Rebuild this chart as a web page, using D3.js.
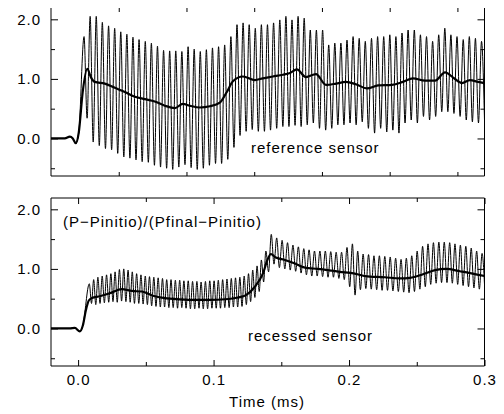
<!DOCTYPE html>
<html>
<head>
<meta charset="utf-8">
<script src="https://cdn.jsdelivr.net/npm/d3@7"></script>
<style>
  body { margin: 0; background: #fff; }
  svg { display: block; }
  text { font-family: "Liberation Sans", Arial, sans-serif; font-size: 15px; letter-spacing: 1px; fill: #000; }
</style>
</head>
<body>
<div class="chart"></div>
<script>
// --- Data (time in ms, normalised pressure) ---

// reference sensor: one entry per oscillation cycle -> [time of peak, peak, following trough]
const refCycles = [
    [0.0044, 1.71, 0.34], [0.0089, 2.05, -0.06], [0.0134, 2.05, -0.12], [0.0179, 1.95, -0.17],
    [0.0225, 1.89, -0.19], [0.0270, 1.85, -0.25], [0.0315, 1.79, -0.31], [0.0360, 1.75, -0.33],
    [0.0405, 1.70, -0.36], [0.0450, 1.66, -0.39], [0.0496, 1.63, -0.40], [0.0541, 1.60, -0.45],
    [0.0586, 1.55, -0.48], [0.0631, 1.48, -0.50], [0.0676, 1.47, -0.52], [0.0721, 1.47, -0.48],
    [0.0766, 1.46, -0.44], [0.0812, 1.54, -0.49], [0.0857, 1.50, -0.52], [0.0902, 1.46, -0.50],
    [0.0947, 1.49, -0.45], [0.0992, 1.52, -0.42], [0.1037, 1.54, -0.42], [0.1082, 1.57, -0.35],
    [0.1128, 1.71, -0.15], [0.1173, 1.91, 0.05], [0.1218, 1.94, 0.12], [0.1263, 1.91, 0.15],
    [0.1308, 1.85, 0.12], [0.1353, 1.91, 0.12], [0.1398, 1.91, 0.14], [0.1443, 1.94, 0.17],
    [0.1489, 1.99, 0.20], [0.1534, 2.05, 0.20], [0.1579, 1.99, 0.22], [0.1624, 2.05, 0.20],
    [0.1669, 2.02, 0.23], [0.1714, 1.82, 0.26], [0.1759, 1.82, 0.17], [0.1805, 1.82, 0.14],
    [0.1850, 1.57, 0.17], [0.1895, 1.60, 0.23], [0.1940, 1.60, 0.23], [0.1985, 1.65, 0.26],
    [0.2030, 1.71, 0.23], [0.2075, 1.68, 0.28], [0.2120, 1.63, 0.17], [0.2166, 1.68, 0.09],
    [0.2211, 1.71, 0.17], [0.2256, 1.71, 0.11], [0.2301, 1.74, 0.14], [0.2346, 1.71, 0.09],
    [0.2391, 1.77, 0.26], [0.2436, 1.82, 0.31], [0.2482, 1.82, 0.26], [0.2527, 1.74, 0.37],
    [0.2572, 1.71, 0.31], [0.2617, 1.63, 0.37], [0.2662, 1.74, 0.45], [0.2707, 1.85, 0.45],
    [0.2752, 1.74, 0.42], [0.2797, 1.71, 0.37], [0.2843, 1.66, 0.31], [0.2888, 1.71, 0.28],
    [0.2933, 1.68, 0.26], [0.2978, 1.63, 0.26]
];

// reference sensor: filtered (thick) curve -> [time, value]
const refMean = [
    [-0.0200, 0.00], [-0.0098, 0.00], [-0.0061, 0.03], [-0.0039, 0.00], [-0.0017, -0.08],
    [0.0005, 0.10], [0.0035, 0.80], [0.0068, 1.17], [0.0094, 1.03], [0.0123, 0.95],
    [0.0197, 0.92], [0.0271, 0.85], [0.0345, 0.78], [0.0419, 0.70], [0.0493, 0.66],
    [0.0566, 0.62], [0.0640, 0.55], [0.0714, 0.51], [0.0773, 0.58], [0.0825, 0.55],
    [0.0899, 0.52], [0.0973, 0.54], [0.1046, 0.60], [0.1098, 0.78], [0.1143, 0.96],
    [0.1217, 1.04], [0.1305, 0.98], [0.1364, 1.01], [0.1438, 1.04], [0.1512, 1.07],
    [0.1564, 1.10], [0.1615, 1.16], [0.1682, 1.03], [0.1756, 1.08], [0.1830, 0.90],
    [0.1904, 0.92], [0.1977, 0.95], [0.2051, 0.91], [0.2132, 0.84], [0.2214, 0.89],
    [0.2317, 0.90], [0.2398, 0.95], [0.2472, 1.01], [0.2561, 0.97], [0.2635, 0.97],
    [0.2709, 1.11], [0.2775, 1.01], [0.2834, 0.93], [0.2893, 0.98], [0.2952, 0.95],
    [0.3000, 0.93]
];

// recessed sensor: [time of peak, peak, following trough]
const recCycles = [
    [0.0083, 0.75, 0.42], [0.0115, 0.82, 0.40], [0.0146, 0.86, 0.42], [0.0178, 0.88, 0.43],
    [0.0210, 0.90, 0.44], [0.0242, 0.92, 0.45], [0.0273, 0.95, 0.44], [0.0305, 0.99, 0.46],
    [0.0337, 1.00, 0.45], [0.0369, 0.98, 0.44], [0.0400, 0.95, 0.42], [0.0432, 0.92, 0.42],
    [0.0464, 0.90, 0.41], [0.0496, 0.88, 0.40], [0.0527, 0.87, 0.38], [0.0559, 0.86, 0.37],
    [0.0591, 0.85, 0.36], [0.0623, 0.84, 0.36], [0.0654, 0.82, 0.35], [0.0686, 0.82, 0.35],
    [0.0718, 0.81, 0.34], [0.0750, 0.81, 0.35], [0.0781, 0.80, 0.34], [0.0813, 0.80, 0.33],
    [0.0845, 0.79, 0.33], [0.0877, 0.79, 0.34], [0.0908, 0.78, 0.33], [0.0940, 0.79, 0.33],
    [0.0972, 0.80, 0.34], [0.1004, 0.80, 0.34], [0.1035, 0.81, 0.34], [0.1067, 0.82, 0.35],
    [0.1099, 0.83, 0.35], [0.1131, 0.84, 0.36], [0.1162, 0.85, 0.36], [0.1194, 0.86, 0.37],
    [0.1226, 0.88, 0.40], [0.1258, 0.92, 0.45], [0.1289, 0.98, 0.52], [0.1321, 1.05, 0.62],
    [0.1353, 1.15, 0.78],
    [0.1386, 1.30, 0.95], [0.1426, 1.58, 1.08], [0.1466, 1.52, 1.02], [0.1506, 1.48, 1.00],
    [0.1546, 1.44, 0.98], [0.1586, 1.40, 0.96], [0.1626, 1.37, 0.93], [0.1666, 1.34, 0.90],
    [0.1705, 1.32, 0.88], [0.1745, 1.30, 0.88], [0.1785, 1.30, 0.87], [0.1825, 1.30, 0.86],
    [0.1865, 1.29, 0.86], [0.1905, 1.28, 0.84], [0.1945, 1.28, 0.82], [0.1985, 1.36, 0.70],
    [0.2025, 1.42, 0.56], [0.2064, 1.30, 0.65], [0.2104, 1.25, 0.67], [0.2144, 1.24, 0.66],
    [0.2184, 1.22, 0.65], [0.2224, 1.22, 0.64], [0.2264, 1.21, 0.64], [0.2304, 1.20, 0.63],
    [0.2344, 1.18, 0.62], [0.2384, 1.16, 0.61], [0.2423, 1.18, 0.60], [0.2463, 1.22, 0.62],
    [0.2503, 1.30, 0.66], [0.2543, 1.38, 0.70], [0.2583, 1.42, 0.74], [0.2623, 1.44, 0.76],
    [0.2663, 1.45, 0.77], [0.2703, 1.45, 0.77], [0.2743, 1.44, 0.76], [0.2782, 1.42, 0.74],
    [0.2822, 1.40, 0.72], [0.2862, 1.38, 0.70], [0.2902, 1.35, 0.68], [0.2942, 1.30, 0.66],
    [0.2982, 1.26, 0.65]
];

// recessed sensor: filtered (thick) curve
const recMean = [
    [-0.0200, 0.00], [-0.0061, 0.00], [-0.0024, 0.01], [0.0013, -0.05], [0.0035, 0.05],
    [0.0057, 0.30], [0.0079, 0.47], [0.0101, 0.51], [0.0160, 0.54], [0.0234, 0.59],
    [0.0323, 0.66], [0.0397, 0.63], [0.0471, 0.62], [0.0552, 0.55], [0.0640, 0.51],
    [0.0751, 0.49], [0.0862, 0.48], [0.0973, 0.48], [0.1083, 0.49], [0.1180, 0.52],
    [0.1239, 0.56], [0.1305, 0.70], [0.1364, 0.92], [0.1401, 1.17], [0.1423, 1.25],
    [0.1460, 1.19], [0.1527, 1.15], [0.1601, 1.09], [0.1675, 1.02], [0.1770, 1.00],
    [0.1874, 0.97], [0.1970, 0.94], [0.2022, 0.93], [0.2118, 0.88], [0.2265, 0.86],
    [0.2376, 0.84], [0.2450, 0.85], [0.2546, 0.91], [0.2635, 0.98], [0.2716, 1.00],
    [0.2819, 0.96], [0.2893, 0.93], [0.3000, 0.88]
];

// tick values
const yMajorTicks = [0, 1, 2];
const yMinorTicks = [-0.5, 0.5, 1.5];
const xLabelTicks = [0, 0.1, 0.2, 0.3];
const xMinorTicks = [0.05, 0.15, 0.25];
const refTicks = [0.03, 0.08, 0.13, 0.18, 0.23, 0.28];   // top panel ticks sit off the labelled grid

// --- Layout ---
const W = 504, H = 414;
const left = 51, right = 484.5;

const svg = d3.select(".chart")
    .append("svg")
    .attr("width", W)
    .attr("height", H);

const x = d3.scaleLinear().domain([-0.02, 0.3]).range([left, right]);

// turn peak/trough cycles into one zig-zag series, trough halfway to the next peak
const toWave = (cycles, lead) => {
    const pts = lead.slice();
    cycles.forEach((c, i) => {
        const next = i < cycles.length - 1 ? cycles[i + 1][0] : c[0] + (c[0] - cycles[i - 1][0]);
        pts.push([c[0], c[1]]);
        pts.push([(c[0] + next) / 2, c[2]]);
    });
    return pts;
};

const drawPanel = (top, bottom, wave, mean, opts) => {
    const y = d3.scaleLinear().domain([-0.63, 2.19]).range([bottom, top]);
    const g = svg.append("g");

    const clipId = "clip" + Math.round(top);
    svg.append("clipPath").attr("id", clipId)
        .append("rect")
        .attr("x", left).attr("y", top)
        .attr("width", right - left).attr("height", bottom - top);

    const line = d3.line()
        .x(d => x(d[0]))
        .y(d => y(d[1]))
        .curve(d3.curveMonotoneX);

    // raw signal (thin) and filtered signal (thick)
    g.append("path")
        .attr("clip-path", `url(#${clipId})`)
        .attr("d", line(wave))
        .attr("fill", "none")
        .attr("stroke", "#000")
        .attr("stroke-width", 1);

    g.append("path")
        .attr("clip-path", `url(#${clipId})`)
        .attr("d", line(mean))
        .attr("fill", "none")
        .attr("stroke", "#000")
        .attr("stroke-width", 2.2)
        .attr("stroke-linejoin", "round");

    // frame
    const frame = [[left, top], [left, bottom], [right, bottom], [right, top]];
    if (opts.closed) frame.push([left, top]);
    g.append("path")
        .attr("d", d3.line()(frame))
        .attr("fill", "none")
        .attr("stroke", "#000")
        .attr("stroke-width", 1);

    // y ticks, inward on both sides
    const yAxis = (size, vals, labels) => {
        const ax = g.append("g").attr("transform", `translate(${left},0)`)
            .call(d3.axisLeft(y).tickValues(vals).tickSize(-size).tickPadding(10)
                .tickFormat(labels ? d3.format(".1f") : ""));
        ax.select(".domain").remove();
        const ax2 = g.append("g").attr("transform", `translate(${right},0)`)
            .call(d3.axisRight(y).tickValues(vals).tickSize(-size).tickFormat(""));
        ax2.select(".domain").remove();
        return ax;
    };
    yAxis(7, yMajorTicks, true);
    yAxis(4, yMinorTicks, false);

    // x ticks, inward on top and bottom
    const xAxis = (size, vals, labels) => {
        const ax = g.append("g").attr("transform", `translate(0,${bottom})`)
            .call(d3.axisBottom(x).tickValues(vals).tickSize(-size).tickPadding(8)
                .tickFormat(labels ? d3.format(".1f") : ""));
        ax.select(".domain").remove();
        const ax2 = g.append("g").attr("transform", `translate(0,${top})`)
            .call(d3.axisTop(x).tickValues(vals).tickSize(-size).tickFormat(""));
        ax2.select(".domain").remove();
    };
    opts.xTicks.forEach(t => xAxis(t.size, t.vals, t.labels));

    g.selectAll(".tick line").attr("stroke", "#000");
    g.selectAll(".tick text")
        .style("font-family", "'Liberation Sans', Arial, sans-serif")
        .style("font-size", "15px")
        .style("letter-spacing", "1px")
        .attr("fill", "#000");

    // annotations
    opts.notes.forEach(n => {
        g.append("text").attr("x", n.x).attr("y", n.y).text(n.text);
    });
};

// top panel: reference sensor
drawPanel(8, 176,
    toWave(refCycles, refMean.filter(d => d[0] <= 0.0005)),
    refMean,
    {
        closed: false,
        xTicks: [{ size: 4, vals: refTicks, labels: false }],
        notes: [{ x: 251, y: 153, text: "reference sensor" }]
    });

// bottom panel: recessed sensor
drawPanel(198, 366,
    toWave(recCycles, recMean.filter(d => d[0] <= 0.0035)),
    recMean,
    {
        closed: true,
        xTicks: [
            { size: 6, vals: xLabelTicks, labels: true },
            { size: 4, vals: xMinorTicks, labels: false }
        ],
        notes: [
            { x: 63, y: 227, text: "(P\u2212Pinitio)/(Pfinal\u2212Pinitio)" },
            { x: 248, y: 341, text: "recessed sensor" }
        ]
    });

// x axis title
svg.append("text")
    .attr("x", 267)
    .attr("y", 407)
    .attr("text-anchor", "middle")
    .text("Time (ms)");
</script>
</body>
</html>
